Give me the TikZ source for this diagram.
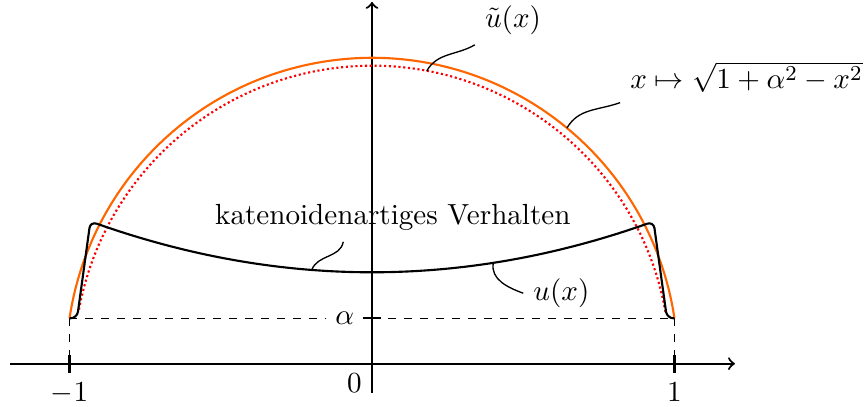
\documentclass[tikz,border=0pt,11pt]{standalone}
\usepackage{amsmath,amssymb}
\usepackage{tikz}
\usetikzlibrary{positioning}
\definecolor{Kreis}{HTML}{FF6600}
\definecolor{Rot}{HTML}{FF0000}

\begin{document}
\begin{tikzpicture}[
  x=4cm,y=4cm,
  achse/.style={->,thick},
  kurve/.style={thick},
  strich/.style={thick},
  hilfslinie/.style={dashed,semithick},
  hinweis/.style={line width=0.5pt}
]
  \useasboundingbox (-1.2298,-0.1431) rectangle (1.6298,1.2023);
  \pgfmathsetmacro{\alp}{0.15}
  \pgfmathsetmacro{\rad}{sqrt(1+\alp*\alp)}
  \pgfmathsetmacro{\wink}{atan(\alp)}

  \draw[hilfslinie] (-1,\alp) -- (1,\alp);
  \draw[hilfslinie] (-1,\alp) -- (-1,0);
  \draw[hilfslinie] (1,\alp) -- (1,0);
  \node[left,fill=white] (alpha) at (-0.025,\alp) {$\alpha$};

  \draw[achse] (-1.197,0) -- (1.2,0);
  \draw[achse] (0,-0.097) -- (0,1.196);
  \foreach \t in {-1,1}
    \draw[strich] (\t,-0.03) -- (\t,0.03);
  \draw[strich] (-0.03,\alp) -- (0.03,\alp);
  \node[below] (minuseins) at (-1,-0.03) {$-1$};
  \node[below] (eins) at (1,-0.03) {$1$};
  \node[below left] (nulllabel) at (0,0) {$0$};

  \draw[kurve,Kreis] (\wink:\rad) arc[start angle=\wink,end angle=180-\wink,radius=\rad];
  \draw[thick,densely dotted,Rot] (10:0.985) arc[start angle=10,end angle=170,radius=0.985];
  \draw[kurve,rounded corners=2.5pt] (-1,\alp) -- (-0.975,\alp)
    -- plot[domain=-0.931:0.931,samples=31] (\x,{0.302+0.194*\x*\x})
    -- (0.975,\alp) -- (1,\alp);

  \coordinate (utildefuss) at (79.4:0.985);
  \node[anchor=south west] (utilde) at (0.340,1.054) {$\tilde{u}(x)$};
  \draw[hinweis] (utildefuss) to[out=60,in=-150] (utilde.south west);

  \coordinate (kreisfuss) at (50.4:\rad);
  \node[anchor=south west] (kreis) at (0.820,0.863) {$x\mapsto\sqrt{1+\alpha^2-x^2}$};
  \draw[hinweis] (kreisfuss) to[out=60,in=-160] (kreis.south west);

  \coordinate (katfuss) at (-0.199,0.310);
  \coordinate (katspitze) at (-0.095,0.403);
  \node (kat) at (0.069,0.482) {katenoidenartiges Verhalten};
  \draw[hinweis] (katfuss) to[out=70,in=-100] (katspitze);

  \coordinate (ufuss) at (0.401,0.333);
  \node[anchor=west] (ulabel) at (0.500,0.233) {$u(x)$};
  \draw[hinweis] (ufuss) to[out=-100,in=160] (ulabel.west);
\end{tikzpicture}
\end{document}
